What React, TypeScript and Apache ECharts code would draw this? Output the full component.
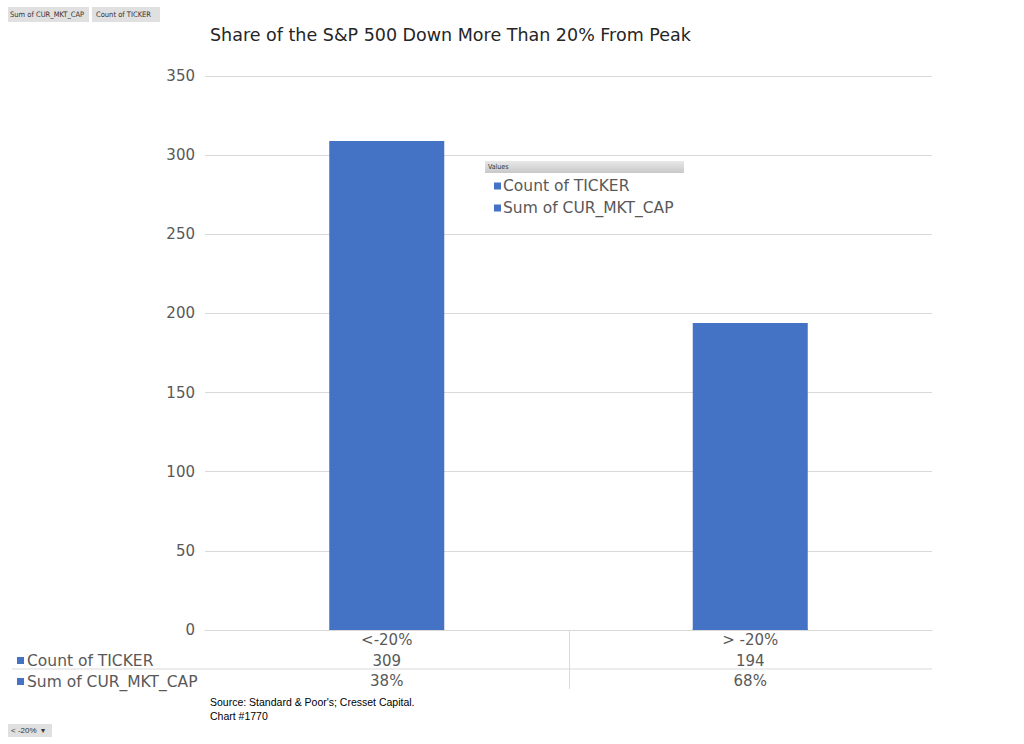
import React, { useEffect, useRef } from "react";
import * as echarts from "echarts";

const categories = ["<-20%", "> -20%"];
const countOfTicker = [309, 194];
const sumOfMktCapPct = [38, 68];
const yTicks = [0, 50, 100, 150, 200, 250, 300, 350];
const seriesNames = ["Count of TICKER", "Sum of CUR_MKT_CAP"];

const FONT = "DejaVu Sans";
const NARROW = "Liberation Sans, sans-serif";
const COND = "DejaVu Sans Condensed, Liberation Sans, sans-serif";
const BLUE = "#4472c4";
const GRAY = "#595959";

export default function App() {
  const ref = useRef<HTMLDivElement>(null);

  useEffect(() => {
    if (!ref.current) return;
    const chart = echarts.init(ref.current, null, { renderer: "svg" });
    const option: any = {
      animation: false,
      backgroundColor: "#ffffff",
      title: {
        text: "Share of the S&P 500 Down More Than 20% From Peak",
        left: 205,
        top: 21,
        textStyle: { fontFamily: FONT, fontSize: 17.5, fontWeight: "normal", color: "#262626" },
      },
      legend: {
        orient: "vertical",
        left: 489,
        top: 173,
        itemWidth: 7,
        itemHeight: 7,
        itemGap: 6,
        icon: "rect",
        data: seriesNames,
        textStyle: { fontFamily: FONT, fontSize: 15.5, color: GRAY, padding: [0, 0, 0, -3] },
      },
      grid: { left: 205, right: 92, top: 76, bottom: 114 },
      xAxis: {
        type: "category",
        data: categories,
        axisLine: { lineStyle: { color: "#d9d9d9", width: 1 } },
        axisTick: { show: false },
        axisLabel: {
          margin: 0,
          interval: 0,
          formatter: (v: string, i: number) =>
            `{c|${v}}\n{v|${countOfTicker[i]}}\n{v|${sumOfMktCapPct[i]}%}`,
          rich: {
            c: { fontFamily: FONT, fontSize: 15, color: GRAY, lineHeight: 20.5 },
            v: { fontFamily: FONT, fontSize: 15, color: GRAY, lineHeight: 20.5 },
          },
        },
      },
      yAxis: {
        type: "value",
        min: 0,
        max: yTicks[yTicks.length - 1],
        interval: 50,
        axisLine: { show: false },
        axisTick: { show: false },
        axisLabel: { fontFamily: FONT, fontSize: 15, color: GRAY, margin: 10 },
        splitLine: { lineStyle: { color: "#d9d9d9", width: 1 } },
      },
      series: [
        {
          name: seriesNames[0],
          type: "bar",
          data: countOfTicker,
          barWidth: 115,
          barGap: "-100%",
          itemStyle: { color: BLUE },
        },
        {
          name: seriesNames[1],
          type: "bar",
          data: sumOfMktCapPct.map((v) => v / 100),
          barWidth: 115,
          barGap: "-100%",
          itemStyle: { color: BLUE },
        },
      ],
      graphic: [
        {
          type: "rect",
          shape: { x: 8, y: 7, width: 81, height: 15 },
          style: { fill: "#e0e0e0" },
        },
        {
          type: "text",
          x: 10,
          y: 14.5,
          style: { text: "Sum of CUR_MKT_CAP", fontFamily: COND, fontSize: 7.5, fill: "#333", verticalAlign: "middle" },
        },
        {
          type: "rect",
          shape: { x: 92, y: 7, width: 68, height: 15 },
          style: { fill: "#e0e0e0" },
        },
        {
          type: "text",
          x: 96,
          y: 14.5,
          style: { text: "Count of TICKER", fontFamily: COND, fontSize: 7.5, fill: "#333", verticalAlign: "middle" },
        },
        {
          type: "rect",
          shape: { x: 485, y: 161, width: 199, height: 12 },
          style: {
            fill: new echarts.graphic.LinearGradient(0, 0, 0, 1, [
              { offset: 0, color: "#e8e8e8" },
              { offset: 1, color: "#c8c8c8" },
            ]),
          },
        },
        {
          type: "text",
          x: 488,
          y: 167,
          style: { text: "Values", fontFamily: COND, fontSize: 7, fill: "#333", verticalAlign: "middle" },
        },
        {
          type: "line",
          shape: { x1: 12, y1: 669, x2: 932, y2: 669 },
          style: { stroke: "#d9d9d9", lineWidth: 1 },
        },
        {
          type: "line",
          shape: { x1: 569.5, y1: 630, x2: 569.5, y2: 689 },
          style: { stroke: "#d9d9d9", lineWidth: 1 },
        },
        { type: "rect", shape: { x: 17, y: 657, width: 7, height: 7 }, style: { fill: BLUE } },
        {
          type: "text",
          x: 27,
          y: 660.5,
          style: { text: seriesNames[0], fontFamily: FONT, fontSize: 15.5, fill: GRAY, verticalAlign: "middle" },
        },
        { type: "rect", shape: { x: 17, y: 678, width: 7, height: 7 }, style: { fill: BLUE } },
        {
          type: "text",
          x: 27,
          y: 681.5,
          style: { text: seriesNames[1], fontFamily: FONT, fontSize: 15.5, fill: GRAY, verticalAlign: "middle" },
        },
        {
          type: "text",
          x: 210,
          y: 702,
          style: { text: "Source: Standard & Poor's; Cresset Capital.", fontFamily: NARROW, fontSize: 10.5, fill: "#000", verticalAlign: "middle" },
        },
        {
          type: "text",
          x: 210,
          y: 716,
          style: { text: "Chart #1770", fontFamily: NARROW, fontSize: 10.5, fill: "#000", verticalAlign: "middle" },
        },
        {
          type: "rect",
          shape: { x: 8, y: 724, width: 44, height: 13 },
          style: { fill: "#e0e0e0" },
        },
        {
          type: "text",
          x: 11,
          y: 730.5,
          style: { text: "< -20%  ▾", fontFamily: NARROW, fontSize: 8, fill: "#333", verticalAlign: "middle" },
        },
      ],
    };
    chart.setOption(option);
    return () => chart.dispose();
  }, []);

  return (
    <div
      ref={ref}
      style={{ position: "fixed", left: 0, top: 0, width: 1024, height: 744 }}
    />
  );
}
